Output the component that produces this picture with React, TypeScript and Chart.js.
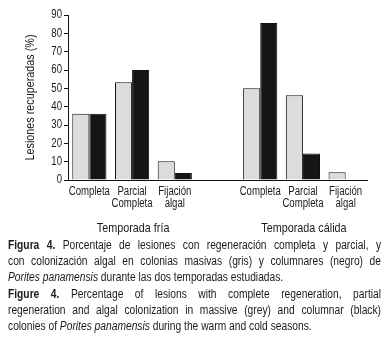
import React, { useEffect, useRef } from "react";
import { Chart, registerables } from "chart.js";

Chart.register(...registerables);

const FONT = "'Liberation Sans', Arial, sans-serif";
const NARROW = 0.8;
const CAP_NARROW = 0.82;

const categories: (string | string[])[] = [
  "Completa",
  ["Parcial", "Completa"],
  ["Fijación", "algal"],
  "",
  "Completa",
  ["Parcial", "Completa"],
  ["Fijación", "algal"],
];
const masivas: (number | null)[] = [36.2, 53.3, 10.2, null, 50, 46.2, 4.2];
const columnares: (number | null)[] = [36.2, 60, 3.8, null, 85.7, 14.5, 0];
const yTicks = [0, 10, 20, 30, 40, 50, 60, 70, 80, 90];
const seasonLabels = ["Temporada fría", "Temporada cálida"];
const seasonCenters = [1, 5];
const yTitle = "Lesiones recuperadas (%)";

const captionLines: { parts: { t: string; b?: boolean; i?: boolean }[]; last?: boolean }[] = [
  { parts: [{ t: "Figura 4.", b: true }, { t: " Porcentaje de lesiones con regeneración completa y parcial, y" }] },
  { parts: [{ t: "con colonización algal en colonias masivas (gris) y columnares (negro) de" }] },
  { parts: [{ t: "Porites panamensis", i: true }, { t: " durante las dos temporadas estudiadas." }], last: true },
  { parts: [{ t: "Figure 4.", b: true }, { t: " Percentage of lesions with complete regeneration, partial" }] },
  { parts: [{ t: "regeneration and algal colonization in massive (grey) and columnar (black)" }] },
  { parts: [{ t: "colonies of " }, { t: "Porites panamensis", i: true }, { t: " during the warm and cold seasons." }], last: true },
];

function narrowText(ctx: CanvasRenderingContext2D, text: string, x: number, y: number, align: CanvasTextAlign, size: number, rot = 0) {
  ctx.save();
  ctx.translate(x, y);
  if (rot) ctx.rotate(rot);
  ctx.scale(NARROW, 1);
  ctx.font = `${size}px ${FONT}`;
  ctx.textAlign = align;
  ctx.textBaseline = "middle";
  ctx.fillText(text, 0, 0);
  ctx.restore();
}

const textPlugin = {
  id: "narrowTexts",
  afterDraw(chart: any) {
    const ctx = chart.ctx as CanvasRenderingContext2D;
    const xs = chart.scales.x;
    const ys = chart.scales.y;
    const area = chart.chartArea;
    ctx.save();
    ctx.fillStyle = "#1a1a1a";
    yTicks.forEach((v) => {
      narrowText(ctx, String(v), ys.right - 6, ys.getPixelForValue(v), "right", 12);
    });
    narrowText(ctx, yTitle, 30, (area.top + area.bottom) / 2, "center", 13.5, -Math.PI / 2);
    categories.forEach((lab, i) => {
      const lines = Array.isArray(lab) ? lab : [lab];
      const cx = xs.getPixelForValue(i);
      lines.forEach((l, k) => {
        if (l) narrowText(ctx, l, cx, area.bottom + 12 + k * 12, "center", 12);
      });
    });
    seasonLabels.forEach((lab, i) => {
      narrowText(ctx, lab, xs.getPixelForValue(seasonCenters[i]) + 1, 228, "center", 13.5);
    });
    ctx.restore();
  },
};

export default function App() {
  const ref = useRef<HTMLCanvasElement>(null);
  useEffect(() => {
    if (!ref.current) return;
    const chart = new Chart(ref.current, {
      type: "bar",
      data: {
        labels: categories,
        datasets: [
          {
            label: "masivas",
            data: masivas,
            backgroundColor: "#dcdcdc",
            borderColor: "#111",
            borderWidth: 1,
            categoryPercentage: 0.8,
            barPercentage: 1.0,
          },
          {
            label: "columnares",
            data: columnares,
            backgroundColor: "#151515",
            borderColor: "#111",
            borderWidth: 1,
            categoryPercentage: 0.8,
            barPercentage: 1.0,
          },
        ],
      },
      options: {
        responsive: false,
        animation: false,
        layout: { padding: { top: 15, right: 22, left: 0, bottom: 0 } },
        plugins: { legend: { display: false }, tooltip: { enabled: false } },
        scales: {
          x: {
            grid: { display: false, drawTicks: false },
            border: { display: true, color: "#111", width: 1 },
            ticks: { display: false, autoSkip: false },
            afterFit: (s: any) => {
              s.height = 60;
            },
          },
          y: {
            min: 0,
            max: 90,
            grid: { display: true, drawOnChartArea: false, drawTicks: true, tickLength: 4, color: "#111" },
            border: { display: true, color: "#111", width: 1 },
            ticks: { stepSize: 10, display: false },
            afterFit: (s: any) => {
              s.width = 68;
            },
          },
        },
      },
      plugins: [textPlugin],
    });
    return () => chart.destroy();
  }, []);

  return (
    <div style={{ position: "absolute", left: 0, top: 0, width: 389, height: 350, background: "#fff" }}>
      <canvas ref={ref} width={389} height={240} style={{ display: "block" }} />
      <div
        style={{
          position: "absolute",
          left: 8,
          top: 237,
          width: 373 / CAP_NARROW,
          transform: `scaleX(${CAP_NARROW})`,
          transformOrigin: "0 0",
          fontFamily: FONT,
          fontSize: 12.5,
          lineHeight: "16.2px",
          color: "#1a1a1a",
        }}
      >
        {captionLines.map((ln, i) => (
          <div
            key={i}
            style={{
              textAlign: ln.last ? "left" : "justify",
              textAlignLast: ln.last ? "left" : "justify",
              whiteSpace: "nowrap",
            } as any}
          >
            {ln.parts.map((p, j) => (
              <span key={j} style={{ fontWeight: p.b ? "bold" : "normal", fontStyle: p.i ? "italic" : "normal" }}>
                {p.t}
              </span>
            ))}
          </div>
        ))}
      </div>
    </div>
  );
}
